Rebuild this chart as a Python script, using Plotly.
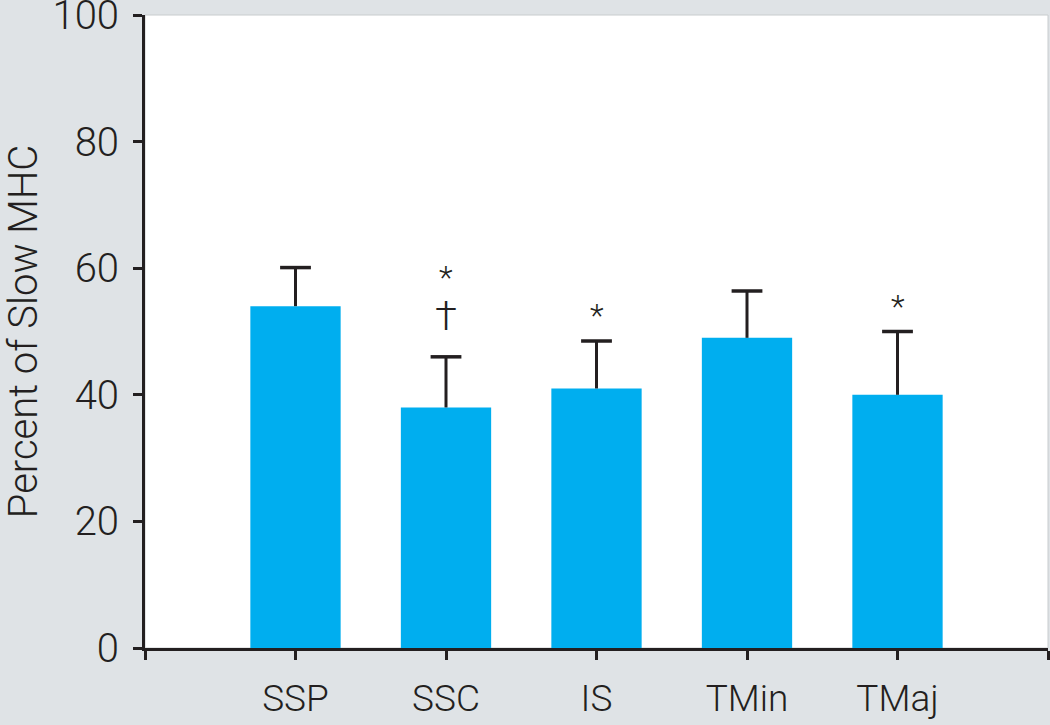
import plotly.graph_objects as go

# muscle groups and % slow MHC (mean, SD upward)
muscles = ["SSP", "SSC", "IS", "TMin", "TMaj"]
slow_mhc = [54, 38, 41, 49, 40]
slow_mhc_sd = [6.1, 8.0, 7.5, 7.4, 10.0]

# significance marks above bars: (muscle, symbol, y)
marks_muscle = ["SSC", "SSC", "IS", "TMaj"]
marks_text = ["*", "†", "*", "*"]
marks_y = [58.6, 52.3, 52.6, 54.0]

ink = "#231f20"
font_family = "Roboto, Liberation Sans, sans-serif"
mark_size = {"*": 32, "†": 40}
xpos = [i + 1 for i in range(len(muscles))]
xmap = dict(zip(muscles, xpos))
tops = [m + s for m, s in zip(slow_mhc, slow_mhc_sd)]

fig = go.Figure()
fig.add_trace(go.Bar(
    x=xpos, y=slow_mhc, width=0.6,
    marker=dict(color="#00aeef", line=dict(width=0)),
))

# one-sided error bars: stems + caps
stem_x, stem_y = [], []
for x, m, t in zip(xpos, slow_mhc, tops):
    stem_x += [x, x, None]
    stem_y += [m, t, None]
fig.add_trace(go.Scatter(x=stem_x, y=stem_y, mode="lines",
                         line=dict(color=ink, width=3), hoverinfo="skip"))
fig.add_trace(go.Scatter(x=xpos, y=tops, mode="markers",
                         marker=dict(symbol="line-ew-open", size=22, color=ink,
                                     line=dict(color=ink, width=3.5))))

for m, t, yv in zip(marks_muscle, marks_text, marks_y):
    fig.add_annotation(x=xmap[m], y=yv, text=t, showarrow=False,
                       font=dict(size=mark_size[t], color=ink, weight=300))

fig.update_layout(
    width=1050, height=725,
    paper_bgcolor="#dfe3e6",
    plot_bgcolor="white",
    margin=dict(l=145, r=2, t=15, b=77),
    font=dict(family=font_family, color=ink, weight=300),
    showlegend=False,
)
fig.update_xaxes(
    range=[0, 6],
    tickvals=list(range(7)),
    ticktext=[""] + muscles + [""],
    ticks="outside", ticklen=9, tickwidth=3, tickcolor=ink,
    showline=True, linecolor=ink, linewidth=3,
    showgrid=False, zeroline=False,
    tickfont=dict(size=37, weight=300),
    ticklabelstandoff=7,
    automargin=False,
)
fig.update_yaxes(
    range=[0, 100],
    tickvals=[0, 20, 40, 60, 80, 100],
    ticks="outside", ticklen=9, tickwidth=3, tickcolor=ink,
    showline=True, linecolor=ink, linewidth=3,
    showgrid=False, zeroline=False,
    tickfont=dict(size=40, weight=300),
    ticklabelstandoff=6,
    ticklabeloverflow="allow",
    automargin=False,
    title=dict(text="Percent of Slow MHC", font=dict(size=40, weight=300), standoff=30),
)
# thin light frame on top/right of the white plot area
fig.add_shape(type="rect", xref="paper", yref="paper", x0=0, y0=0, x1=1, y1=1,
              line=dict(color="#c8ccce", width=1), layer="below")

# drop the page's default body margin so the figure sits at the window corner
fig.write_html("out.html", config={"displayModeBar": False},
               post_script="document.body.style.margin='0';")
